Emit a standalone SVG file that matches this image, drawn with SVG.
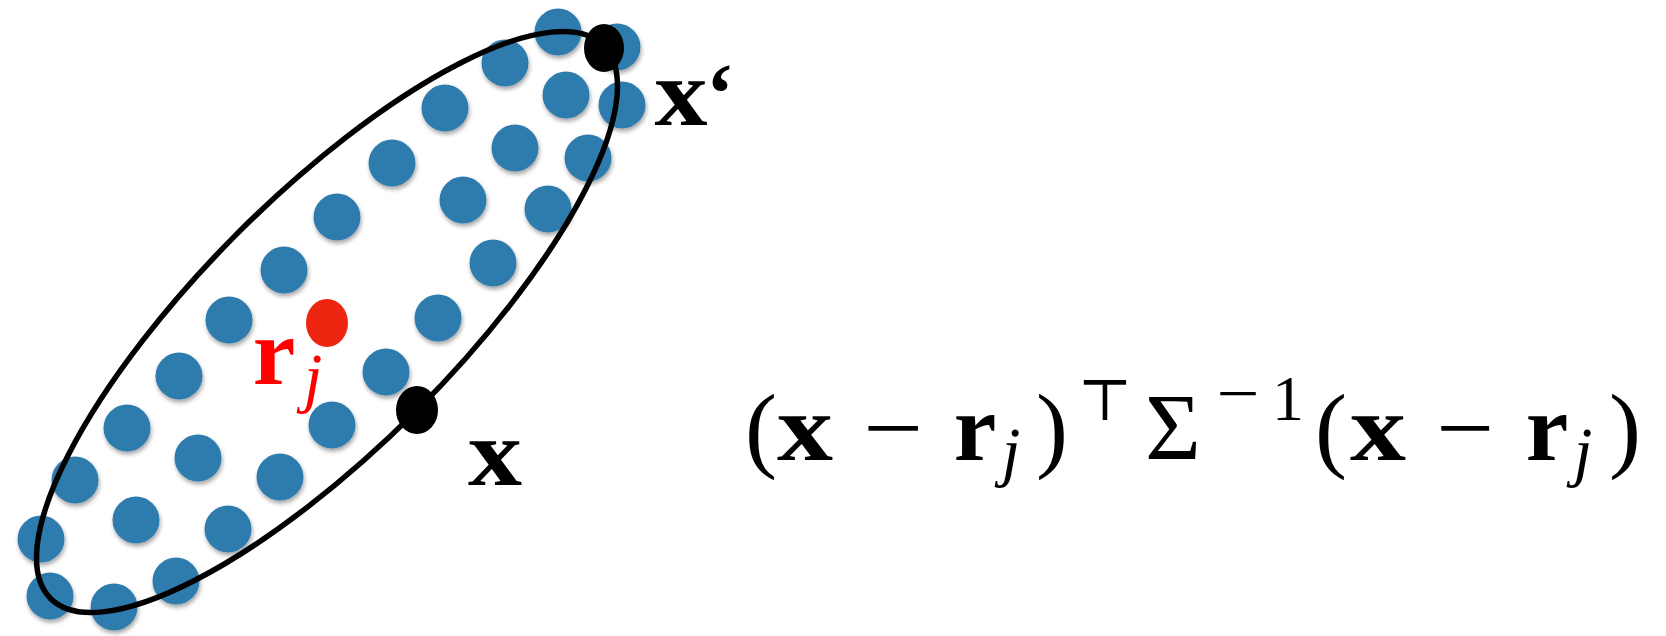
<svg xmlns="http://www.w3.org/2000/svg" width="1666" height="636" viewBox="0 0 1666 636">
<defs>
<filter id="shadow" x="-30%" y="-30%" width="160%" height="170%">
<feDropShadow dx="1" dy="3" stdDeviation="2" flood-color="#000" flood-opacity="0.35"/>
</filter>
<style>
.pt{fill:#2f7cae;filter:url(#shadow)}
.m{font-family:"Liberation Serif","Times New Roman",serif;font-size:96px;text-anchor:middle;fill:#000}
.b{font-weight:bold}
.sub{font-style:italic;font-size:67px}
.sup{font-size:64px}
.red{fill:#ff0000}
</style>
</defs>
<rect width="1666" height="636" fill="#fff"/>
<g id="points">
<circle class="pt" cx="558" cy="32" r="23.5"/>
<circle class="pt" cx="617" cy="47" r="23.5"/>
<circle class="pt" cx="505" cy="63" r="23.5"/>
<circle class="pt" cx="566" cy="95" r="23.5"/>
<circle class="pt" cx="622" cy="105" r="23.5"/>
<circle class="pt" cx="445" cy="108" r="23.5"/>
<circle class="pt" cx="515" cy="148" r="23.5"/>
<circle class="pt" cx="588" cy="158" r="23.5"/>
<circle class="pt" cx="392" cy="163" r="23.5"/>
<circle class="pt" cx="463" cy="200" r="23.5"/>
<circle class="pt" cx="548" cy="209" r="23.5"/>
<circle class="pt" cx="337" cy="217" r="23.5"/>
<circle class="pt" cx="493" cy="263" r="23.5"/>
<circle class="pt" cx="284" cy="270" r="23.5"/>
<circle class="pt" cx="438" cy="318" r="23.5"/>
<circle class="pt" cx="229" cy="320" r="23.5"/>
<circle class="pt" cx="386" cy="372" r="23.5"/>
<circle class="pt" cx="179" cy="376" r="23.5"/>
<circle class="pt" cx="332" cy="425" r="23.5"/>
<circle class="pt" cx="127" cy="428" r="23.5"/>
<circle class="pt" cx="198" cy="458" r="23.5"/>
<circle class="pt" cx="280" cy="477" r="23.5"/>
<circle class="pt" cx="75" cy="480" r="23.5"/>
<circle class="pt" cx="136" cy="520" r="23.5"/>
<circle class="pt" cx="228" cy="529" r="23.5"/>
<circle class="pt" cx="41" cy="539" r="23.5"/>
<circle class="pt" cx="176" cy="581" r="23.5"/>
<circle class="pt" cx="50" cy="596" r="23.5"/>
<circle class="pt" cx="114" cy="607" r="23.5"/>
</g>
<g id="boundary">
<ellipse cx="327" cy="322" rx="391" ry="126" transform="rotate(-45 327 322)" fill="none" stroke="#000" stroke-width="5.5"/>
</g>
<g id="center-rj">
<ellipse cx="327" cy="323" rx="21" ry="24" fill="#ee2510"/>
<text class="m b red" x="274" y="384">r</text>
<text class="m sub red" x="313" y="400">j</text>
</g>
<g id="point-x">
<ellipse cx="417" cy="410" rx="21" ry="24" fill="#000"/>
<text class="m b" x="495" y="485" textLength="54" lengthAdjust="spacingAndGlyphs">x</text>
</g>
<g id="point-xprime">
<ellipse cx="604" cy="48" rx="20" ry="24" fill="#000"/>
<text class="m b" x="681" y="125" textLength="53" lengthAdjust="spacingAndGlyphs">x</text>
<text class="m b" x="720" y="122" style="font-size:84px">‘</text>
</g>
<g id="formula">
<text class="m" x="761" y="460">(</text>
<text class="m b" x="805" y="460" textLength="56" lengthAdjust="spacingAndGlyphs">x</text>
<text class="m" x="893" y="460" textLength="60" lengthAdjust="spacingAndGlyphs">−</text>
<text class="m b" x="975" y="460">r</text>
<text class="m sub" x="1011" y="474">j</text>
<text class="m" x="1052" y="460">)</text>
<text class="m sup" x="1105" y="420" style="font-family:'DejaVu Serif','DejaVu Sans',serif;font-size:58px">⊤</text>
<text class="m" x="1173" y="460">Σ</text>
<text class="m sup" x="1238" y="415" textLength="43" lengthAdjust="spacingAndGlyphs">−</text>
<text class="m sup" x="1288" y="420">1</text>
<text class="m" x="1331" y="460">(</text>
<text class="m b" x="1378" y="460" textLength="56" lengthAdjust="spacingAndGlyphs">x</text>
<text class="m" x="1465" y="460" textLength="58" lengthAdjust="spacingAndGlyphs">−</text>
<text class="m b" x="1547" y="460">r</text>
<text class="m sub" x="1583" y="474">j</text>
<text class="m" x="1625" y="460">)</text>
</g>
</svg>
